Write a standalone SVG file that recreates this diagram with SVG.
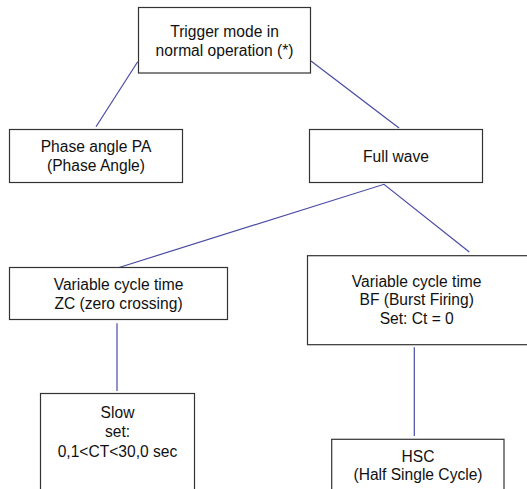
<svg xmlns="http://www.w3.org/2000/svg" width="527" height="489" viewBox="0 0 527 489">
<style>
.box{fill:#fff;stroke:#333;stroke-width:1.2}
.t{font-family:"Liberation Sans",Arial,sans-serif;font-size:15.6px;fill:#111;text-anchor:middle}
.c{stroke:#4a4aa4;stroke-width:1.2;fill:none}
</style>
<rect width="527" height="489" fill="#fff"/>
<g id="connectors">
<line class="c" x1="137.7" y1="61.7" x2="96" y2="126.7"/>
<line class="c" x1="311" y1="61" x2="399" y2="128"/>
<polyline class="c" points="118.3,267.7 384,184.3 469.3,252"/>
<line class="c" x1="117" y1="323.3" x2="117" y2="391"/>
<line class="c" x1="414.3" y1="347.3" x2="414.3" y2="436"/>
</g>
<g id="trigger">
<rect class="box" x="138.5" y="7.5" width="172" height="65.5"/>
<text class="t" x="224.5" y="37.3">Trigger mode in</text>
<text class="t" x="224.5" y="56">normal operation (*)</text>
</g>
<g id="phase">
<rect class="box" x="9.5" y="129.5" width="173" height="53"/>
<text class="t" x="96" y="152">Phase angle PA</text>
<text class="t" x="96" y="170.7">(Phase Angle)</text>
</g>
<g id="fullwave">
<rect class="box" x="309.5" y="129.5" width="173" height="53"/>
<text class="t" x="396" y="162">Full wave</text>
</g>
<g id="zc">
<rect class="box" x="9.5" y="267.5" width="218" height="52"/>
<text class="t" x="118.5" y="290">Variable cycle time</text>
<text class="t" x="118.5" y="308.5">ZC (zero crossing)</text>
</g>
<g id="bf">
<rect class="box" x="307.5" y="255.7" width="240" height="89"/>
<text class="t" x="416.7" y="286.7">Variable cycle time</text>
<text class="t" x="416.7" y="305.2">BF (Burst Firing)</text>
<text class="t" x="416.7" y="324">Set: Ct = 0</text>
</g>
<g id="slow">
<rect class="box" x="40.5" y="393.5" width="154" height="120"/>
<text class="t" x="117.5" y="418.3">Slow</text>
<text class="t" x="117.5" y="437">set:</text>
<text class="t" x="117.5" y="456.7">0,1&lt;CT&lt;30,0 sec</text>
</g>
<g id="hsc">
<rect class="box" x="331.7" y="439.3" width="172.3" height="80"/>
<text class="t" x="418" y="461.7">HSC</text>
<text class="t" x="418" y="480.3">(Half Single Cycle)</text>
</g>
</svg>
